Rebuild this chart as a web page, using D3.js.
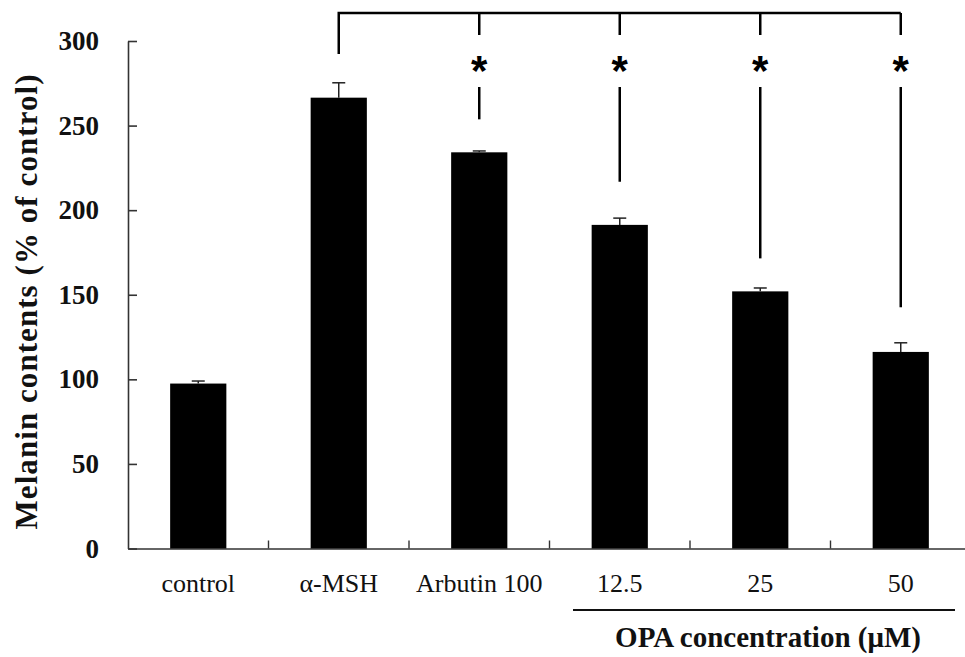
<!DOCTYPE html>
<html>
<head>
<meta charset="utf-8">
<script src="https://cdn.jsdelivr.net/npm/d3@7"></script>
<style>
  body { margin: 0; background: #fff; }
  text { font-family: "Liberation Serif", "Times New Roman", serif; }
</style>
</head>
<body>
<svg id="chart"></svg>
<script>
const WIDTH = 965
const HEIGHT = 657

const categories = ["control", "α-MSH", "Arbutin 100", "12.5", "25", "50"]
const melanin = [97.5, 266.5, 234.2, 191.3, 152.0, 116.2]
const errors = [1.5, 8.8, 0.8, 4.0, 2.0, 5.4]
const yTicks = [0, 50, 100, 150, 200, 250, 300]

// significance vs α-MSH: which bars, and where each connector line stops (data units)
const sigCategories = ["Arbutin 100", "12.5", "25", "50"]
const sigLineEnd = [253.7, 216.8, 171.5, 142.6]

const opaGroup = ["12.5", "25", "50"]

let svg = d3.select("#chart")
  .attr("width", WIDTH)
  .attr("height", HEIGHT)

let x = d3.scaleBand()
  .domain(categories)
  .range([128, 971])
  .paddingInner(0.6)
  .paddingOuter(0.3)

let y = d3.scaleLinear()
  .domain([0, 300])
  .range([548.5, 41])

// y axis
let yAxis = svg.append("g")
  .attr("transform", "translate(128,0)")
  .call(d3.axisLeft(y).tickValues(yTicks).tickSizeInner(-9).tickSizeOuter(0).tickPadding(29))

yAxis.select(".domain").attr("stroke", "#333").attr("stroke-width", 1.6)
yAxis.selectAll(".tick line").attr("stroke", "#333").attr("stroke-width", 1.6)
yAxis.selectAll(".tick text")
  .style("font-family", '"Liberation Serif", "Times New Roman", serif')
  .style("font-weight", "bold")
  .style("font-size", "27px")
  .attr("fill", "#111")

// x axis
let xAxis = svg.append("g")
  .attr("transform", `translate(0,${y(0)})`)
  .call(d3.axisBottom(x).tickSize(0).tickPadding(0))

xAxis.select(".domain").attr("stroke", "#333").attr("stroke-width", 1.6)
xAxis.selectAll(".tick text")
  .attr("y", 43)
  .attr("dy", 0)
  .style("font-family", '"Liberation Serif", "Times New Roman", serif')
  .style("font-size", "26px")
  .attr("fill", "#111")

// boundary ticks between categories
let step = x.step()
svg.append("g")
  .selectAll("line")
  .data(categories.slice(1))
  .enter()
  .append("line")
  .attr("x1", (d, i) => x(d) - step * 0.3)
  .attr("x2", (d, i) => x(d) - step * 0.3)
  .attr("y1", y(0))
  .attr("y2", y(0) - 8)
  .attr("stroke", "#333")
  .attr("stroke-width", 1.4)

// bars
svg.append("g")
  .selectAll("rect")
  .data(categories)
  .enter()
  .append("rect")
  .attr("x", d => x(d))
  .attr("y", (d, i) => y(melanin[i]))
  .attr("width", x.bandwidth())
  .attr("height", (d, i) => y(0) - y(melanin[i]))
  .attr("fill", "#000")

// error bars (upper only)
let err = svg.append("g")
  .attr("stroke", "#222")
  .attr("stroke-width", 1.5)

categories.forEach((c, i) => {
  let cx = x(c) + x.bandwidth() / 2
  let top = y(melanin[i] + errors[i])
  err.append("line")
    .attr("x1", cx).attr("x2", cx)
    .attr("y1", y(melanin[i])).attr("y2", top)
  err.append("line")
    .attr("x1", cx - 6.5).attr("x2", cx + 6.5)
    .attr("y1", top).attr("y2", top)
})

// significance bracket
const center = c => x(c) + x.bandwidth() / 2
let sig = svg.append("g")
  .attr("stroke", "#000")
  .attr("stroke-width", 2.5)
  .attr("fill", "none")

let bracketY = 13
sig.append("path")
  .attr("d", `M${center("α-MSH")},54 V${bracketY} H${center("50")}`)

sigCategories.forEach((c, i) => {
  let cx = center(c)
  sig.append("line")
    .attr("x1", cx).attr("x2", cx)
    .attr("y1", bracketY).attr("y2", 35)
  sig.append("line")
    .attr("x1", cx).attr("x2", cx)
    .attr("y1", 87).attr("y2", y(sigLineEnd[i]))
  svg.append("text")
    .attr("x", cx)
    .attr("y", 85)
    .attr("text-anchor", "middle")
    .style("font-family", '"Liberation Sans", Arial, sans-serif')
    .style("font-weight", "bold")
    .style("font-size", "42px")
    .text("*")
})

// OPA group underline and label
let opaLeft = 573
let opaRight = 955
svg.append("line")
  .attr("x1", opaLeft).attr("x2", opaRight)
  .attr("y1", 610).attr("y2", 610)
  .attr("stroke", "#111")
  .attr("stroke-width", 2.2)

svg.append("text")
  .attr("x", 768)
  .attr("y", 647)
  .attr("text-anchor", "middle")
  .style("font-weight", "bold")
  .style("font-size", "29px")
  .attr("fill", "#111")
  .text("OPA concentration (μM)")

// y title
svg.append("text")
  .attr("transform", "translate(37,302) rotate(-90)")
  .attr("text-anchor", "middle")
  .style("font-weight", "bold")
  .style("font-size", "31px")
  .attr("fill", "#111")
  .attr("textLength", 455)
  .attr("lengthAdjust", "spacing")
  .text("Melanin contents (% of control)")
</script>
</body>
</html>
